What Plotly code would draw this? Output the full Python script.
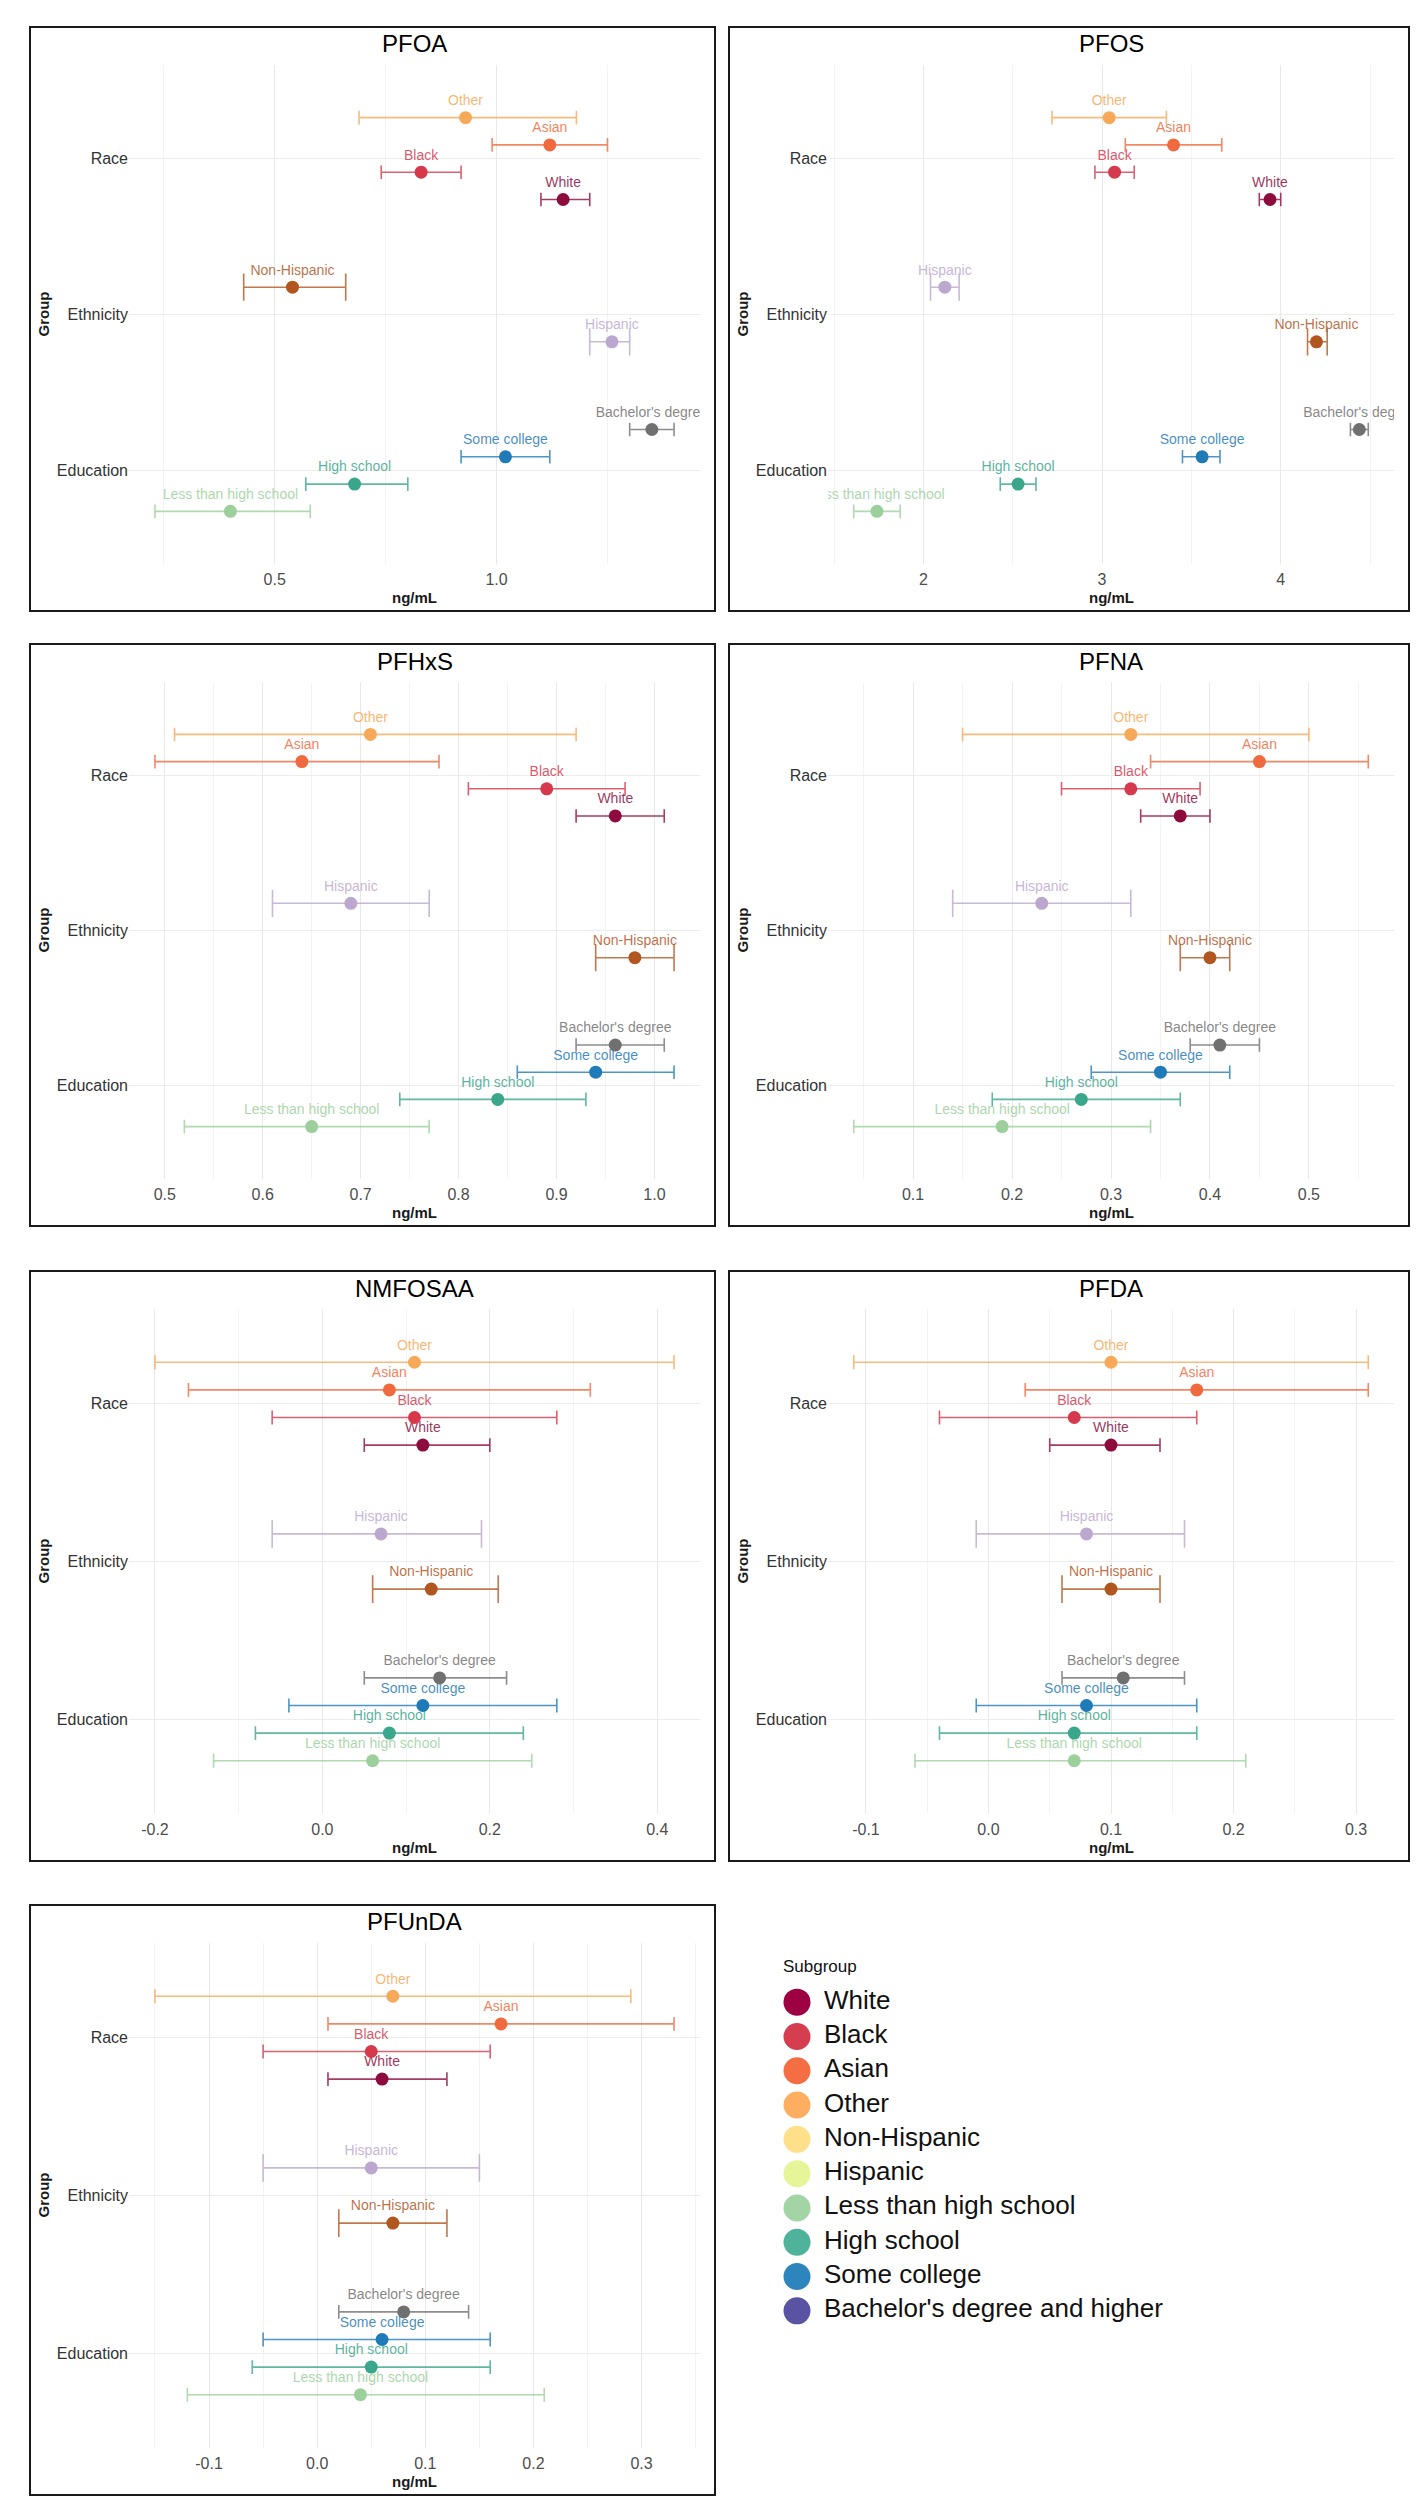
import plotly.graph_objects as go

W, H = 1423, 2500

# subgroups in one fixed order, all per-panel values follow it
subgroups = ['White', 'Black', 'Asian', 'Other', 'Non-Hispanic', 'Hispanic',
             'Less than high school', 'High school', 'Some college',
             "Bachelor's degree and higher"]
point_labels = ['White', 'Black', 'Asian', 'Other', 'Non-Hispanic', 'Hispanic',
                'Less than high school', 'High school', 'Some college',
                "Bachelor's degree"]
groups = ['Race', 'Race', 'Race', 'Race', 'Ethnicity', 'Ethnicity',
          'Education', 'Education', 'Education', 'Education']
group_names = ['Education', 'Ethnicity', 'Race']  # bottom -> top

point_colors = ['#8E0B3D', '#D6384C', '#F06A40', '#F7A95A', '#B2561F', '#BCA8CF',
                '#9CCF9C', '#3AA68B', '#1F7AB8', '#707070']
legend_colors = ['#9E0142', '#D53E4F', '#F46D43', '#FDAE61', '#FEE08B', '#E6F598',
                 '#A3D4A3', '#4FB29A', '#2D85BE', '#5A52A3']

panels = ['PFOA', 'PFOS', 'PFHxS', 'PFNA', 'NMFOSAA', 'PFDA', 'PFUnDA']

# bottom-to-top order of the subgroups inside each group, per panel
race_order = ['White', 'Black', 'Asian', 'Other']
edu_order = ['Less than high school', 'High school', 'Some college', "Bachelor's degree and higher"]
eth_order = {
    'PFOA': ['Hispanic', 'Non-Hispanic'],
    'PFOS': ['Non-Hispanic', 'Hispanic'],
    'PFHxS': ['Non-Hispanic', 'Hispanic'],
    'PFNA': ['Non-Hispanic', 'Hispanic'],
    'NMFOSAA': ['Non-Hispanic', 'Hispanic'],
    'PFDA': ['Non-Hispanic', 'Hispanic'],
    'PFUnDA': ['Non-Hispanic', 'Hispanic'],
}

pfoa_mean = [1.15, 0.83, 1.12, 0.93, 0.54, 1.26, 0.40, 0.68, 1.02, 1.35]
pfoa_low = [1.10, 0.74, 0.99, 0.69, 0.43, 1.21, 0.23, 0.57, 0.92, 1.30]
pfoa_high = [1.21, 0.92, 1.25, 1.18, 0.66, 1.30, 0.58, 0.80, 1.12, 1.40]

pfos_mean = [3.94, 3.07, 3.40, 3.04, 4.20, 2.12, 1.74, 2.53, 3.56, 4.44]
pfos_low = [3.88, 2.96, 3.13, 2.72, 4.15, 2.04, 1.61, 2.43, 3.45, 4.39]
pfos_high = [4.00, 3.18, 3.67, 3.36, 4.26, 2.20, 1.87, 2.63, 3.66, 4.49]

pfhxs_mean = [0.96, 0.89, 0.64, 0.71, 0.98, 0.69, 0.65, 0.84, 0.94, 0.96]
pfhxs_low = [0.92, 0.81, 0.49, 0.51, 0.94, 0.61, 0.52, 0.74, 0.86, 0.92]
pfhxs_high = [1.01, 0.97, 0.78, 0.92, 1.02, 0.77, 0.77, 0.93, 1.02, 1.01]

pfna_mean = [0.37, 0.32, 0.45, 0.32, 0.40, 0.23, 0.19, 0.27, 0.35, 0.41]
pfna_low = [0.33, 0.25, 0.34, 0.15, 0.37, 0.14, 0.04, 0.18, 0.28, 0.38]
pfna_high = [0.40, 0.39, 0.56, 0.50, 0.42, 0.32, 0.34, 0.37, 0.42, 0.45]

nmfosaa_mean = [0.12, 0.11, 0.08, 0.11, 0.13, 0.07, 0.06, 0.08, 0.12, 0.14]
nmfosaa_low = [0.05, -0.06, -0.16, -0.20, 0.06, -0.06, -0.13, -0.08, -0.04, 0.05]
nmfosaa_high = [0.20, 0.28, 0.32, 0.42, 0.21, 0.19, 0.25, 0.24, 0.28, 0.22]

pfda_mean = [0.10, 0.07, 0.17, 0.10, 0.10, 0.08, 0.07, 0.07, 0.08, 0.11]
pfda_low = [0.05, -0.04, 0.03, -0.11, 0.06, -0.01, -0.06, -0.04, -0.01, 0.06]
pfda_high = [0.14, 0.17, 0.31, 0.31, 0.14, 0.16, 0.21, 0.17, 0.17, 0.16]

pfunda_mean = [0.06, 0.05, 0.17, 0.07, 0.07, 0.05, 0.04, 0.05, 0.06, 0.08]
pfunda_low = [0.01, -0.05, 0.01, -0.15, 0.02, -0.05, -0.12, -0.06, -0.05, 0.02]
pfunda_high = [0.12, 0.16, 0.33, 0.29, 0.12, 0.15, 0.21, 0.16, 0.16, 0.14]

tick_vals = {
    'PFOA': [0.5, 1.0],
    'PFOS': [2, 3, 4],
    'PFHxS': [0.5, 0.6, 0.7, 0.8, 0.9, 1.0],
    'PFNA': [0.1, 0.2, 0.3, 0.4, 0.5],
    'NMFOSAA': [-0.2, 0.0, 0.2, 0.4],
    'PFDA': [-0.1, 0.0, 0.1, 0.2, 0.3],
    'PFUnDA': [-0.1, 0.0, 0.1, 0.2, 0.3],
}
tick_text = {
    'PFOA': ['0.5', '1.0'],
    'PFOS': ['2', '3', '4'],
    'PFHxS': ['0.5', '0.6', '0.7', '0.8', '0.9', '1.0'],
    'PFNA': ['0.1', '0.2', '0.3', '0.4', '0.5'],
    'NMFOSAA': ['-0.2', '0.0', '0.2', '0.4'],
    'PFDA': ['-0.1', '0.0', '0.1', '0.2', '0.3'],
    'PFUnDA': ['-0.1', '0.0', '0.1', '0.2', '0.3'],
}

values = {
    'PFOA': (pfoa_mean, pfoa_low, pfoa_high),
    'PFOS': (pfos_mean, pfos_low, pfos_high),
    'PFHxS': (pfhxs_mean, pfhxs_low, pfhxs_high),
    'PFNA': (pfna_mean, pfna_low, pfna_high),
    'NMFOSAA': (nmfosaa_mean, nmfosaa_low, nmfosaa_high),
    'PFDA': (pfda_mean, pfda_low, pfda_high),
    'PFUnDA': (pfunda_mean, pfunda_low, pfunda_high),
}

# panel boxes in pixels: left, right, top, bottom
cols = [(22, 707), (721, 1401)]
rows = [(19, 603), (636, 1218), (1263, 1853), (1897, 2487)]
FONT = 'Liberation Sans, Arial, sans-serif'
DODGE = 0.7
CAP = 0.35


def rgba(hexc, a):
    h = hexc.lstrip('#')
    return 'rgba(%d,%d,%d,%.2f)' % (int(h[0:2], 16), int(h[2:4], 16), int(h[4:6], 16), a)


def xdom(a, b):
    return [a / W, b / W]


def ydom(top, bottom):
    return [1 - bottom / H, 1 - top / H]


fig = go.Figure()
shapes = []
annots = []

for k, name in enumerate(panels):
    pl, pr = cols[k % 2]
    pt, pb = rows[k // 2]
    al, ar, at, ab = pl + 99, pr - 15, pt + 38, pb - 47
    n_ax = k + 1
    xa = 'x' if n_ax == 1 else 'x%d' % n_ax
    ya = 'y' if n_ax == 1 else 'y%d' % n_ax
    px_per_unit = (ab - at) / 3.2

    mean, low, high = values[name]
    lo_all, hi_all = min(low), max(high)
    pad = (hi_all - lo_all) * 0.05
    xr = [lo_all - pad, hi_all + pad]

    orders = {'Race': race_order, 'Ethnicity': eth_order[name], 'Education': edu_order}
    for i, sg in enumerate(subgroups):
        g = groups[i]
        order = orders[g]
        n = len(order)
        rank = order.index(sg)
        ypos = group_names.index(g) + 1 + (rank - (n - 1) / 2) * DODGE / n
        fig.add_trace(go.Scatter(
            x=[mean[i]], y=[ypos], xaxis=xa, yaxis=ya,
            mode='markers+text', text=[point_labels[i]], textposition='top center',
            textfont=dict(family=FONT, size=14, color=rgba(point_colors[i], 0.85)),
            marker=dict(size=13, color=point_colors[i]),
            error_x=dict(type='data', symmetric=False,
                         array=[high[i] - mean[i]], arrayminus=[mean[i] - low[i]],
                         color=rgba(point_colors[i], 0.8), thickness=1.6,
                         width=CAP / n / 2 * px_per_unit),
            showlegend=False, hoverinfo='skip'))

    tv = tick_vals[name]
    step = tv[1] - tv[0]
    ext = [tv[0] - step] + tv + [tv[-1] + step]
    minor = [(ext[j] + ext[j + 1]) / 2 for j in range(len(ext) - 1)]
    minor = [m for m in minor if xr[0] <= m <= xr[1]]

    fig.layout['xaxis' if n_ax == 1 else 'xaxis%d' % n_ax] = dict(
        domain=xdom(al, ar), anchor=ya, range=xr,
        tickmode='array', tickvals=tv, ticktext=tick_text[name],
        showgrid=True, gridcolor='#e8e8e8', gridwidth=1, zeroline=False,
        showline=False, ticks='', ticklabelstandoff=4,
        tickfont=dict(family=FONT, size=16, color='#4d4d4d'),
        minor=dict(tickmode='array', tickvals=minor, showgrid=True, gridcolor='#f3f3f3', gridwidth=1),
    )
    fig.layout['yaxis' if n_ax == 1 else 'yaxis%d' % n_ax] = dict(
        domain=ydom(at, ab), anchor=xa, range=[0.4, 3.6],
        tickmode='array', tickvals=[1, 2, 3], ticktext=group_names,
        showgrid=True, gridcolor='#ececec', zeroline=False, showline=False, ticks='',
        tickfont=dict(family=FONT, size=16, color='#333333'),
    )

    shapes.append(dict(type='rect', xref='paper', yref='paper',
                       x0=pl / W, x1=pr / W, y0=1 - pb / H, y1=1 - pt / H,
                       line=dict(color='#1a1a1a', width=2), fillcolor='rgba(0,0,0,0)'))
    annots.append(dict(text=name, xref='paper', yref='paper', x=(al + ar) / 2 / W, y=1 - (pt + 17) / H,
                       showarrow=False, xanchor='center', yanchor='middle',
                       font=dict(family=FONT, size=24, color='#000000')))
    annots.append(dict(text='<b>ng/mL</b>', xref='paper', yref='paper', x=(al + ar) / 2 / W, y=1 - (pb - 14) / H,
                       showarrow=False, xanchor='center', yanchor='middle',
                       font=dict(family=FONT, size=15, color='#1a1a1a')))
    annots.append(dict(text='<b>Group</b>', xref='paper', yref='paper', x=(pl + 13) / W, y=1 - (at + ab) / 2 / H,
                       showarrow=False, xanchor='center', yanchor='middle', textangle=-90,
                       font=dict(family=FONT, size=15, color='#1a1a1a')))

# legend drawn on its own hidden axes
leg_top = 1977
leg_step = 34.3
fig.add_trace(go.Scatter(
    x=[19] * len(subgroups), y=list(range(len(subgroups))), xaxis='x8', yaxis='y8',
    mode='markers', marker=dict(size=27, color=legend_colors),
    showlegend=False, hoverinfo='skip', cliponaxis=False))
fig.add_trace(go.Scatter(
    x=[46] * len(subgroups), y=list(range(len(subgroups))), xaxis='x8', yaxis='y8',
    mode='text', text=subgroups, textposition='middle right',
    textfont=dict(family=FONT, size=26, color='#111111'),
    showlegend=False, hoverinfo='skip', cliponaxis=False))
fig.layout['xaxis8'] = dict(domain=xdom(770, 1400), anchor='y8', range=[0, 630], visible=False)
fig.layout['yaxis8'] = dict(domain=ydom(leg_top, leg_top + leg_step * len(subgroups)), anchor='x8',
                            range=[len(subgroups) - 0.5, -0.5], visible=False)
annots.append(dict(text='Subgroup', xref='paper', yref='paper', x=773 / W, y=1 - 1958 / H,
                   showarrow=False, xanchor='left', yanchor='middle',
                   font=dict(family=FONT, size=17, color='#111111')))

fig.update_layout(
    width=W, height=H, margin=dict(l=0, r=0, t=0, b=0),
    paper_bgcolor='white', plot_bgcolor='white',
    shapes=shapes, annotations=annots, showlegend=False,
)

fig.write_html('out.html')
